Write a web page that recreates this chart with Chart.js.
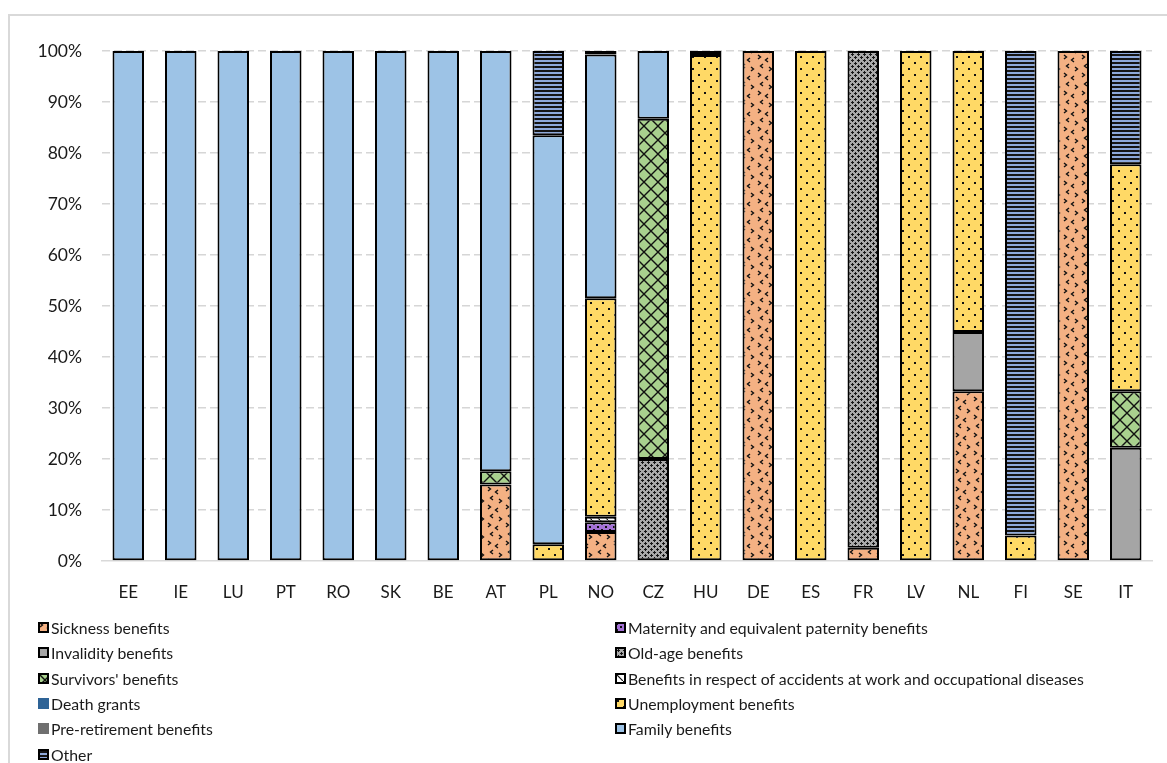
<!DOCTYPE html>
<html>
<head>
<meta charset="utf-8">
<script src="https://cdn.jsdelivr.net/npm/chart.js@4.4.1/dist/chart.umd.min.js"></script>
<style>
  html, body { margin: 0; padding: 0; background: #fff; }
  #wrap { position: relative; width: 1167px; height: 763px; overflow: hidden; }
  #frame { position: absolute; left: 8px; top: 14px; width: 1200px; height: 800px;
           border-left: 2px solid #D9D9D9; border-top: 2px solid #D9D9D9; }
  #chart { position: absolute; left: 0; top: 0; }
  .leg { position: absolute; font-family: Lato, "Liberation Sans", sans-serif; font-size: 15.8px;
         color: #1a1a1a; white-space: nowrap; line-height: 18px; }
  .leg canvas { position: absolute; left: 0; top: 3px; }
  .leg span { position: absolute; left: 13px; top: 0; }
</style>
</head>
<body>
<div id="wrap">
  <div id="frame"></div>
  <canvas id="chart" width="1167" height="763"></canvas>
  <div id="legend"></div>
</div>
<script>
// Countries on the x axis
const countries = ['EE','IE','LU','PT','RO','SK','BE','AT','PL','NO','CZ','HU','DE','ES','FR','LV','NL','FI','SE','IT'];

// Share of each benefit type per country (%)
const sickness       = [0,0,0,0,0,0,0,15.0,0,5.7,0,0,100,0,2.6,0,33.3,0,100,0];
const maternity      = [0,0,0,0,0,0,0,0,0,1.9,0,0,0,0,0,0,0,0,0,0];
const invalidity     = [0,0,0,0,0,0,0,0,0,0,0,0,0,0,0,0,11.6,0,0,22.2];
const oldAge         = [0,0,0,0,0,0,0,0,0,0,20.0,0,0,0,97.4,0,0,0,0,0];
const survivors      = [0,0,0,0,0,0,0,2.6,0,0,66.7,0,0,0,0,0,0,0,0,11.1];
const accidents      = [0,0,0,0,0,0,0,0,0,1.1,0,0,0,0,0,0,0,0,0,0];
const deathGrants    = [0,0,0,0,0,0,0,0,0,0,0,0,0,0,0,0,0,0,0,0];
const unemployment   = [0,0,0,0,0,0,0,0,3.3,42.8,0,99.2,0,100,0,100,55.1,5.0,0,44.5];
const preRetirement  = [0,0,0,0,0,0,0,0,0,0,0,0,0,0,0,0,0,0,0,0];
const family         = [100,100,100,100,100,100,100,82.4,80.2,47.8,13.3,0.8,0,0,0,0,0,0,0,0];
const other          = [0,0,0,0,0,0,0,0,16.5,0.7,0,0,0,0,0,0,0,95.0,0,22.2];

const seriesNames = ['Sickness benefits','Maternity and equivalent paternity benefits','Invalidity benefits',
  'Old-age benefits',"Survivors' benefits",'Benefits in respect of accidents at work and occupational diseases',
  'Death grants','Unemployment benefits','Pre-retirement benefits','Family benefits','Other'];
const seriesValues = [sickness, maternity, invalidity, oldAge, survivors, accidents,
  deathGrants, unemployment, preRetirement, family, other];

const yTicks = [0,10,20,30,40,50,60,70,80,90,100];

// ---- fill patterns ----
function tile(w, h, draw) {
  const c = document.createElement('canvas');
  c.width = w; c.height = h;
  draw(c.getContext('2d'), w, h);
  return c;
}
function chevron(g, x, y, dir) {
  g.beginPath();
  g.moveTo(x, y); g.lineTo(x + 2.5 * dir, y + 2); g.lineTo(x, y + 4);
  g.stroke();
}
function pixels(g, list) { list.forEach(([x, y]) => g.fillRect(x, y, 1, 1)); }
const tiles = [
  // sickness: orange with small chevrons
  tile(18, 18, (g) => {
    g.fillStyle = '#F4B183'; g.fillRect(0, 0, 18, 18);
    g.strokeStyle = '#111'; g.lineWidth = 1.4;
    chevron(g, 2, 1, 1);
    chevron(g, 12, 4, -1);
    chevron(g, 7, 10, -1);
    chevron(g, 13, 13, 1);
  }),
  // maternity: purple with dots
  tile(8, 6, (g) => {
    g.fillStyle = '#A471D6'; g.fillRect(0, 0, 8, 6);
    g.fillStyle = '#111'; g.fillRect(1, 1, 2, 2); g.fillRect(5, 4, 2, 2);
  }),
  // invalidity: plain grey
  tile(4, 4, (g) => { g.fillStyle = '#A5A5A5'; g.fillRect(0, 0, 4, 4); }),
  // old-age: grey with small dark crosses
  tile(6, 6, (g) => {
    g.fillStyle = '#A9A9A9'; g.fillRect(0, 0, 6, 6);
    g.fillStyle = '#161616';
    pixels(g, [[3,2],[2,3],[3,3],[4,3],[3,4],[0,0],[1,0],[5,0],[0,1],[0,5]]);
  }),
  // survivors: green with diagonal lattice
  tile(14, 14, (g) => {
    g.fillStyle = '#A9D18E'; g.fillRect(0, 0, 14, 14);
    g.strokeStyle = '#111'; g.lineWidth = 1.4;
    g.beginPath(); g.moveTo(-1, -1); g.lineTo(15, 15); g.moveTo(15, -1); g.lineTo(-1, 15); g.stroke();
  }),
  // accidents: white with diagonal hatch
  tile(8, 8, (g) => {
    g.fillStyle = '#fff'; g.fillRect(0, 0, 8, 8);
    g.strokeStyle = '#111'; g.lineWidth = 1.2;
    g.beginPath(); g.moveTo(-1, -1); g.lineTo(9, 9); g.stroke();
  }),
  // death grants: dark blue
  tile(4, 4, (g) => { g.fillStyle = '#2E6396'; g.fillRect(0, 0, 4, 4); }),
  // unemployment: yellow with dots
  tile(12, 12, (g) => {
    g.fillStyle = '#FFD966'; g.fillRect(0, 0, 12, 12);
    g.fillStyle = '#111'; g.fillRect(2, 2, 2, 2); g.fillRect(8, 8, 2, 2);
  }),
  // pre-retirement: dark grey
  tile(4, 4, (g) => { g.fillStyle = '#6F6F6F'; g.fillRect(0, 0, 4, 4); }),
  // family: light blue
  tile(4, 4, (g) => { g.fillStyle = '#9DC3E6'; g.fillRect(0, 0, 4, 4); }),
  // other: blue / black horizontal stripes
  tile(4, 4, (g) => {
    g.fillStyle = '#8EA9DB'; g.fillRect(0, 0, 4, 4);
    g.fillStyle = '#151515'; g.fillRect(0, 2, 4, 2);
  })
];
const bordered = [true, true, true, true, true, true, false, true, false, true, true];

const canvas = document.getElementById('chart');
const ctx = canvas.getContext('2d');
const patterns = tiles.map(t => ctx.createPattern(t, 'repeat'));

const datasets = seriesNames.map((name, i) => ({
  label: name,
  data: seriesValues[i].map(v => v === 0 ? null : v),
  backgroundColor: patterns[i],
  borderColor: '#000',
  borderWidth: 2,
  borderSkipped: false,
  barPercentage: 0.6,
  categoryPercentage: 1.0
}));

const textColor = '#1a1a1a';
const fontFamily = 'Lato, "Liberation Sans", sans-serif';

new Chart(ctx, {
  type: 'bar',
  data: { labels: countries, datasets },
  options: {
    responsive: false,
    animation: false,
    layout: { padding: { top: 51, right: 15, left: 0, bottom: 0 } },
    plugins: { legend: { display: false }, tooltip: { enabled: false } },
    scales: {
      x: {
        stacked: true,
        grid: { display: false },
        border: { display: true, color: '#D9D9D9', width: 1.5 },
        ticks: { color: textColor, font: { family: fontFamily, size: 17 }, padding: 13 },
        afterFit: (s) => { s.height = 763 - 561; }
      },
      y: {
        stacked: true,
        min: 0, max: 100,
        afterBuildTicks: (s) => { s.ticks = yTicks.map(v => ({ value: v })); },
        ticks: { color: textColor, font: { family: fontFamily, size: 17.5 }, padding: 20,
                 callback: (v) => v + '%' },
        grid: { drawTicks: false, lineWidth: 1.5,
                color: (c) => c.tick && c.tick.value === 0 ? 'rgba(0,0,0,0)' : '#D6D6D6' },
        border: { display: false, dash: [8, 4] },
        afterFit: (s) => { s.width = 102; }
      }
    }
  }
});

// ---- legend (two columns) ----
const legend = document.getElementById('legend');
const colX = [38, 615];
const rowY = 619, rowStep = 25.3;
seriesNames.forEach((name, i) => {
  const col = i % 2, row = Math.floor(i / 2);
  const item = document.createElement('div');
  item.className = 'leg';
  item.style.left = colX[col] + 'px';
  item.style.top = (rowY + row * rowStep) + 'px';
  const box = document.createElement('canvas');
  box.width = 11; box.height = 11;
  const bg = box.getContext('2d');
  bg.fillStyle = bg.createPattern(tiles[i], 'repeat');
  bg.fillRect(0, 0, 11, 11);
  if (bordered[i]) { bg.strokeStyle = '#000'; bg.lineWidth = 2; bg.strokeRect(1, 1, 9, 9); }
  const label = document.createElement('span');
  label.textContent = name;
  item.appendChild(box);
  item.appendChild(label);
  legend.appendChild(item);
});
</script>
</body>
</html>
